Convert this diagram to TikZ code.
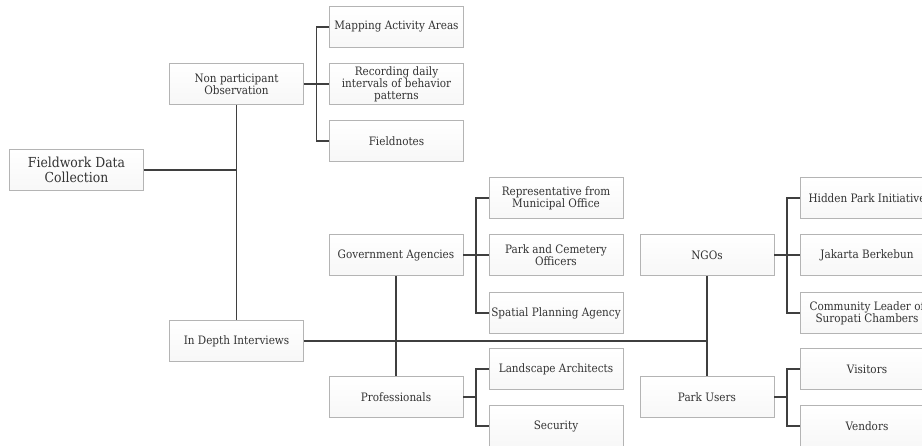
\documentclass[tikz,border=0pt]{standalone}
\usepackage{fontspec}
\setmainfont{DejaVu Serif Condensed}
\usetikzlibrary{calc}

\definecolor{boxline}{HTML}{B4B4B4}
\definecolor{connline}{HTML}{3F3F3F}
\definecolor{txt}{HTML}{333333}

\tikzset{
  box/.style={draw=boxline, line width=0.8pt, top color=white, bottom color=gray!6,
    minimum width=134pt, minimum height=41pt, inner sep=1pt, align=center,
    text=txt, font=\fontsize{11.6}{12.2}\selectfont},
  rootbox/.style={box, font=\fontsize{13.8}{14.5}\selectfont},
  conn/.style={draw=connline, line width=1.8pt}
}

\begin{document}
\begin{tikzpicture}[x=1pt, y=-1pt]
    \useasboundingbox (0, 0) rectangle (922, 445);
    \begin{scope}
      \clip (0, 0) rectangle (922, 445);

      % main branches
      \node[rootbox] (fdc) at (76.5, 170) {Fieldwork Data\\Collection};
      \node[box] (npo) at (236.5, 84) {Non participant\\Observation};
      \node[box] (idi) at (236.5, 341) {In Depth Interviews};

      % observation
      \node[box] (map) at (396.5, 27) {Mapping Activity Areas};
      \node[box] (rec) at (396.5, 84) {Recording daily\\intervals of behavior\\patterns};
      \node[box] (fn) at (396.5, 141) {Fieldnotes};

      % interview groups
      \node[box] (gov) at (396, 255) {Government Agencies};
      \node[box] (prof) at (396, 397) {Professionals};
      \node[box] (ngo) at (707, 255) {NGOs};
      \node[box] (pu) at (707, 397) {Park Users};

      \node[box] (rep) at (556, 198) {Representative from\\Municipal Office};
      \node[box] (pco) at (556, 255) {Park and Cemetery\\Officers};
      \node[box] (spa) at (556, 313) {Spatial Planning Agency};
      \node[box] (land) at (556, 369) {Landscape Architects};
      \node[box] (sec) at (556, 426) {Security};

      \node[box] (hpi) at (867, 198) {Hidden Park Initiative};
      \node[box] (jb) at (867, 255) {Jakarta Berkebun};
      \node[box] (cl) at (867, 313) {Community Leader of\\Suropati Chambers};
      \node[box] (vis) at (867, 369) {Visitors};
      \node[box] (ven) at (867, 426) {Vendors};

      % connectors
      \draw[conn] (npo.south) -- (idi.north);
      \draw[conn] (fdc.east) -- (fdc.east -| npo.south);
      \draw[conn] (npo.east) -- (rec.west);
      \coordinate (npoJ) at ($(npo.east)!0.5!(rec.west)$);
      \draw[conn] (map.west) -| (npoJ) |- (fn.west);

      \draw[conn] (gov.south) -- (prof.north);
      \draw[conn] (ngo.south) -- (pu.north);
      \draw[conn] (idi.east) -- (idi.east -| ngo.south);

      \draw[conn] (gov.east) -- (pco.west);
      \coordinate (govJ) at ($(gov.east)!0.5!(pco.west)$);
      \draw[conn] (rep.west) -| (govJ) |- (spa.west);
      \coordinate (profJ) at (govJ |- prof.east);
      \draw[conn] (prof.east) -- (profJ);
      \draw[conn] (land.west) -| (profJ) |- (sec.west);

      \draw[conn] (ngo.east) -- (jb.west);
      \coordinate (ngoJ) at ($(ngo.east)!0.5!(jb.west)$);
      \draw[conn] (hpi.west) -| (ngoJ) |- (cl.west);
      \coordinate (puJ) at (ngoJ |- pu.east);
      \draw[conn] (pu.east) -- (puJ);
      \draw[conn] (vis.west) -| (puJ) |- (ven.west);
    \end{scope}
\end{tikzpicture}
\end{document}
